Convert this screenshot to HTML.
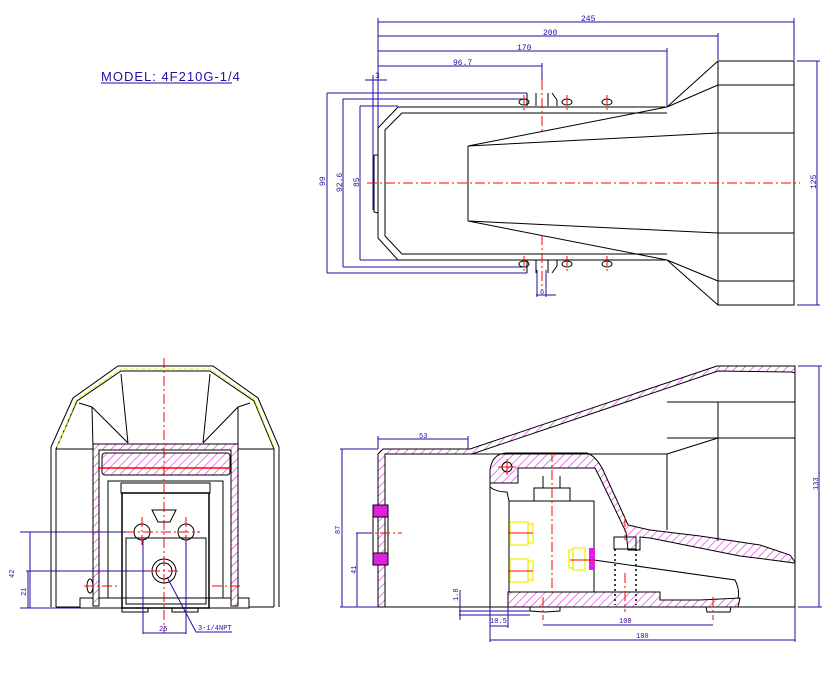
<!DOCTYPE html>
<html><head><meta charset="utf-8"><style>
html,body{margin:0;padding:0;background:#fff;}
svg{display:block;}
text{font-family:"Liberation Mono",monospace;fill:#2a0aa0;}
</style></head><body>
<svg width="834" height="674" viewBox="0 0 834 674" xmlns="http://www.w3.org/2000/svg">
<defs>
<pattern id="h" width="6" height="6" patternUnits="userSpaceOnUse" patternTransform="rotate(45)">
<rect width="6" height="6" fill="#fff"/><line x1="0" y1="0" x2="0" y2="6" stroke="#e020e0" stroke-width="1.2"/>
</pattern>
<marker id="a" markerWidth="6" markerHeight="6" refX="5" refY="3" orient="auto"><path d="M0,1.5 L5,3 L0,4.5" fill="#2a0aa0"/></marker>
</defs>

<!-- MODEL label -->
<text x="101" y="81" font-size="13" letter-spacing="1" style="font-family:'Liberation Sans',sans-serif">MODEL: 4F210G-1/4</text>
<line x1="101" y1="83" x2="232" y2="83" stroke="#2a0aa0" stroke-width="1"/>

<!-- ================= TOP VIEW ================= -->
<g stroke="#2a0aa0" stroke-width="1" fill="none">
<line x1="378" y1="22" x2="794" y2="22"/><line x1="378" y1="36" x2="718" y2="36"/>
<line x1="378" y1="51" x2="667" y2="51"/><line x1="378" y1="66" x2="542" y2="66"/>
<line x1="378" y1="18" x2="378" y2="128"/><line x1="794" y1="18" x2="794" y2="60"/>
<line x1="718" y1="33" x2="718" y2="60"/><line x1="667" y1="48" x2="667" y2="106"/>
<line x1="542" y1="63" x2="542" y2="80"/>
<line x1="365" y1="80" x2="387" y2="80"/><line x1="373" y1="75" x2="373" y2="210"/>
<line x1="327" y1="93" x2="527" y2="93"/><line x1="343" y1="99" x2="527" y2="99"/><line x1="360" y1="106" x2="398" y2="106"/>
<line x1="327" y1="273" x2="527" y2="273"/><line x1="343" y1="267" x2="527" y2="267"/><line x1="360" y1="260" x2="398" y2="260"/>
<line x1="327" y1="93" x2="327" y2="273"/><line x1="343" y1="99" x2="343" y2="267"/><line x1="360" y1="106" x2="360" y2="260"/>
<line x1="797" y1="61" x2="820" y2="61"/><line x1="797" y1="305" x2="820" y2="305"/><line x1="817" y1="61" x2="817" y2="305"/>
<line x1="536" y1="295" x2="556" y2="295"/><line x1="537" y1="270" x2="537" y2="297"/><line x1="546" y1="270" x2="546" y2="297"/>
</g>
<g font-size="8">
<text x="581" y="21">245</text><text x="543" y="35">200</text><text x="517" y="50">170</text>
<text x="453" y="65">96.7</text><text x="375" y="78">3</text><text x="540" y="294" font-size="7">6</text>
<text transform="translate(325,186) rotate(-90)">99</text>
<text transform="translate(342,192) rotate(-90)">92.6</text>
<text transform="translate(359,187) rotate(-90)">85</text>
<text transform="translate(816,189) rotate(-90)">125</text>
</g>
<g stroke="#000" stroke-width="1" fill="none">
<rect x="718" y="61" width="76" height="244"/>
<line x1="718" y1="85" x2="794" y2="85"/><line x1="718" y1="133" x2="794" y2="133"/>
<line x1="718" y1="233" x2="794" y2="233"/><line x1="718" y1="281" x2="794" y2="281"/>
<path d="M667,107 L398,107 L378,128 L378,238 L398,260 L667,260"/>
<path d="M667,113 L402,113 L385,130 L385,236 L402,254 L667,254"/>
<path d="M374,155 L374,212 L378,213"/><line x1="374" y1="155" x2="378" y2="155"/>
<line x1="468" y1="146" x2="468" y2="221"/>
<path d="M468,146 L718,133 M468,221 L718,233 M468,146 L667,107 M468,221 L667,260"/>
<path d="M667,107 L718,61 M667,107 L718,85 M667,260 L718,305 M667,260 L718,281"/>
<path d="M527,93 L527,106 M536,93 L536,106 M548,93 L548,106 M552,93 L557,100 L557,106"/>
<path d="M527,273 L527,260 M536,273 L536,260 M548,273 L548,260 M552,273 L557,266 L557,260"/>
<ellipse cx="524" cy="102" rx="5" ry="3"/><ellipse cx="567" cy="102" rx="5" ry="3"/><ellipse cx="607" cy="102" rx="5" ry="3"/>
<ellipse cx="524" cy="264" rx="5" ry="3"/><ellipse cx="567" cy="264" rx="5" ry="3"/><ellipse cx="607" cy="264" rx="5" ry="3"/>
</g>
<g stroke="#f00" stroke-width="1" stroke-dasharray="10,3,2,3" fill="none">
<line x1="367" y1="183" x2="800" y2="183"/>
<line x1="542" y1="80" x2="542" y2="131"/><line x1="542" y1="235" x2="542" y2="288"/>
<line x1="524" y1="95" x2="524" y2="112"/><line x1="567" y1="95" x2="567" y2="110"/><line x1="607" y1="95" x2="607" y2="110"/>
<line x1="524" y1="256" x2="524" y2="273"/><line x1="567" y1="256" x2="567" y2="272"/><line x1="607" y1="256" x2="607" y2="272"/>
</g>

<!-- ================= FRONT VIEW ================= -->
<g stroke="#000" stroke-width="1" fill="none">
<path d="M51,607 L51,447 L73,398 L118,366 L213,366 L258,398 L279,447 L279,607"/>
<path d="M56,607 L56,449 L77,401 L121,371 L210,371 L254,401 L274,449 L274,607"/>
<path d="M56,449 L93,449 M238,449 L274,449"/>
<path d="M79,403 L92,407 L93,449 M250,403 L238,407 L238,449"/>
<path d="M121,374 L128,443 M210,374 L203,443 M92,407 L128,443 M238,407 L203,443"/>
<path d="M56,607 L80,607 M249,607 L274,607"/>
<rect x="80" y="598" width="169" height="10"/>
<rect x="122" y="493" width="87" height="115" stroke-width="1.5"/>
<rect x="126" y="538" width="80" height="66"/>
<rect x="121" y="483" width="89" height="10"/>
<rect x="108" y="481" width="115" height="117"/>
<circle cx="142" cy="532" r="8"/><circle cx="186" cy="532" r="8"/><circle cx="164" cy="571" r="8"/>
<circle cx="164" cy="571" r="12"/>
<path d="M152,510 L176,510 L170,522 L158,522 Z"/>
<rect x="122" y="608" width="26" height="4"/><rect x="172" y="608" width="26" height="4"/>
<ellipse cx="90" cy="586" rx="3" ry="7"/>
</g>
<g stroke="#000" stroke-width="1" fill="url(#h)">
<path d="M93,444 L238,444 L238,606 L231,606 L231,450 L99,450 L99,606 L93,606 Z"/>
<rect x="102" y="453" width="128" height="22" rx="3"/>
</g>
<path d="M57,447 L77,399 L121,369 L210,369 L254,399 L274,447" stroke="#ee0" stroke-dasharray="4,2" fill="none"/>
<g stroke="#f00" stroke-width="1" stroke-dasharray="10,3,2,3" fill="none">
<line x1="164" y1="358" x2="164" y2="633"/>
<line x1="98" y1="468" x2="232" y2="468" stroke-dasharray="none" stroke-width="1.5"/>
<line x1="125" y1="532" x2="200" y2="532"/><line x1="142" y1="517" x2="142" y2="548"/><line x1="186" y1="517" x2="186" y2="548"/>
<line x1="150" y1="571" x2="178" y2="571"/><line x1="84" y1="586" x2="120" y2="586"/><line x1="212" y1="586" x2="243" y2="586"/>
</g>
<g stroke="#2a0aa0" stroke-width="1" fill="none">
<line x1="20" y1="532" x2="126" y2="532"/><line x1="26" y1="571" x2="150" y2="571"/><line x1="20" y1="608" x2="80" y2="608"/>
<line x1="30" y1="532" x2="30" y2="608"/><line x1="28" y1="571" x2="28" y2="608"/>
<line x1="143" y1="540" x2="143" y2="634"/><line x1="186" y1="540" x2="186" y2="634"/><line x1="143" y1="633" x2="186" y2="633"/>
<path d="M167,577 L196,632 L232,632"/>
</g>
<g font-size="7"><text transform="translate(14,578) rotate(-90)">42</text><text transform="translate(26,596) rotate(-90)">21</text>
<text x="159" y="631">25</text><text x="198" y="630">3-1/4NPT</text></g>

<!-- ================= SIDE VIEW ================= -->
<g stroke="#000" stroke-width="1" fill="url(#h)">
<path d="M378,607 L378,454 L383,449 L470,449 L717,366 L795,366 L795,373 L792,372 L718,371 L472,454 L385,454 L385,607 Z"/>
<path d="M373,505 L388,505 L388,517 L373,517 Z M373,553 L388,553 L388,565 L373,565 Z" fill="#e020e0"/>
<path d="M490,470 Q492,454 506,453 L587,453 Q596,456 603,470 L625,518 L628,525 L650,530 L700,536 L760,545 L790,555 L795,562 L795,563 L740,556 L650,538 L640,537 L640,550 L628,550 L626,532 L600,478 L595,468 L518,468 L518,483 L490,483 Z"/>
<path d="M508,592 L660,592 L660,600 L700,600 L740,598 L738,607 L508,607 Z"/>
</g>
<g stroke="#000" stroke-width="1" fill="none">
<path d="M378,607 L795,607 L795,366"/>
<line x1="385" y1="454" x2="667" y2="454"/>
<path d="M667,454 L667,530 M667,402 L795,402 M718,402 L718,541 M667,438 L795,438 M667,454 L718,438"/>
<rect x="373" y="517" width="15" height="36"/>
<rect x="509" y="501" width="85" height="91"/>
<rect x="534" y="488" width="36" height="13"/>
<path d="M543,476 L543,488 M560,476 L560,488"/>
<path d="M490,483 L490,487 Q496,492 507,492 L509,501"/>
<path d="M594,560 L735,580 Q740,590 738,598"/>
<path d="M490,483 L490,607"/>
<rect x="614" y="537" width="22" height="12"/>
<path d="M615,549 L615,605 M636,549 L636,605" stroke-dasharray="2,3" stroke-width="1.5"/>
<path d="M530,607 L530,611 L545,612 L560,611 L560,607 M706,607 L707,612 L730,612 L731,607"/>
</g>
<g stroke="#ee0" stroke-width="1.2" fill="none">
<rect x="510" y="522" width="18" height="23"/><rect x="528" y="524" width="5" height="19"/>
<rect x="510" y="559" width="18" height="23"/><rect x="528" y="561" width="5" height="19"/>
<rect x="573" y="548" width="12" height="22"/><rect x="569" y="550" width="4" height="18"/>
</g>
<rect x="589" y="548" width="6" height="22" fill="#e020e0"/>
<circle cx="507" cy="467" r="5" stroke="#000" fill="none"/>
<g stroke="#f00" stroke-width="1" fill="none">
<line x1="508" y1="533" x2="533" y2="533"/><line x1="508" y1="571" x2="533" y2="571"/>
<line x1="570" y1="560" x2="595" y2="560"/>
<line x1="498" y1="467" x2="516" y2="467"/><line x1="507" y1="459" x2="507" y2="475"/>
<g stroke-dasharray="10,3,2,3">
<line x1="552" y1="452" x2="552" y2="596"/><line x1="543" y1="597" x2="543" y2="620"/><line x1="713" y1="597" x2="713" y2="620"/>
<line x1="625" y1="517" x2="625" y2="540"/><line x1="625" y1="573" x2="625" y2="612"/>
<line x1="362" y1="533" x2="402" y2="533"/>
</g></g>
<g stroke="#2a0aa0" stroke-width="1" fill="none">
<line x1="340" y1="449" x2="378" y2="449"/><line x1="342" y1="449" x2="342" y2="607"/><line x1="340" y1="607" x2="378" y2="607"/>
<line x1="356" y1="533" x2="372" y2="533"/><line x1="357" y1="533" x2="357" y2="607"/>
<line x1="378" y1="439" x2="468" y2="439"/><line x1="468" y1="436" x2="468" y2="449"/><line x1="378" y1="436" x2="378" y2="449"/>
<line x1="798" y1="366" x2="822" y2="366"/><line x1="798" y1="607" x2="822" y2="607"/><line x1="819" y1="366" x2="819" y2="607"/>
<line x1="490" y1="607" x2="490" y2="642"/><line x1="795" y1="607" x2="795" y2="642"/><line x1="490" y1="640" x2="795" y2="640"/>
<line x1="543" y1="625" x2="713" y2="625"/><line x1="490" y1="626" x2="508" y2="626"/><line x1="508" y1="607" x2="508" y2="628"/>
<line x1="459" y1="611" x2="530" y2="611"/><line x1="459" y1="615" x2="530" y2="615"/><line x1="460" y1="590" x2="460" y2="620"/>
</g>
<g font-size="7">
<text x="419" y="438">53</text>
<text transform="translate(340,534) rotate(-90)">87</text>
<text transform="translate(356,574) rotate(-90)">41</text>
<text transform="translate(818,490) rotate(-90)">133</text>
<text transform="translate(458,601) rotate(-90)">1.8</text>
<text x="490" y="623">10.5</text><text x="619" y="623">100</text><text x="636" y="638">180</text>
</g>
</svg>
</body></html>
